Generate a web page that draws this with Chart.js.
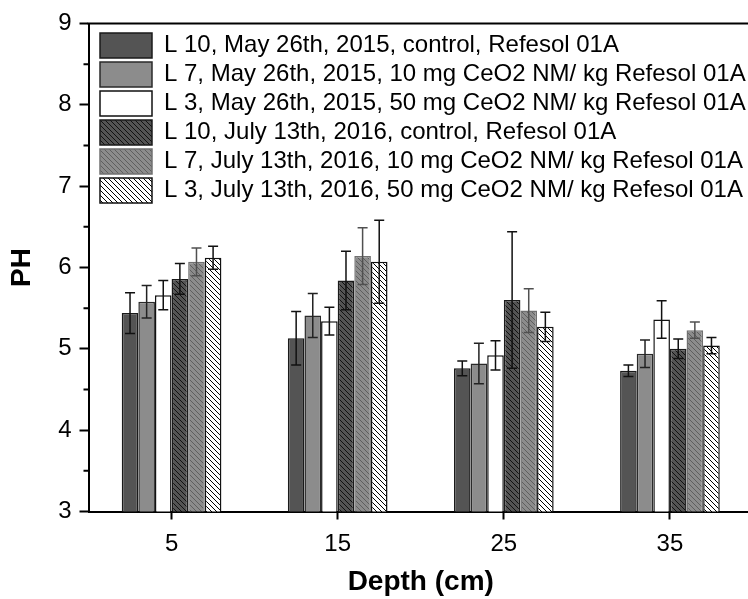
<!DOCTYPE html>
<html><head><meta charset="utf-8">
<script src="https://cdn.jsdelivr.net/npm/chart.js@4.4.1/dist/chart.umd.min.js"></script>
<style>
html,body{margin:0;padding:0;background:#fff;overflow:hidden;}
#wrap{width:748px;height:599px;overflow:hidden;position:relative;}
canvas{display:block;}
</style></head><body>
<div id="wrap"><canvas id="c" width="760" height="599"></canvas></div>
<script>
// ---- data ----
const depthLabels = ['5', '15', '25', '35'];
const seriesLabels = [
  'L 10, May 26th, 2015, control, Refesol 01A',
  'L 7, May 26th, 2015, 10 mg CeO2 NM/ kg Refesol 01A',
  'L 3, May 26th, 2015, 50 mg CeO2 NM/ kg Refesol 01A',
  'L 10, July 13th, 2016, control, Refesol 01A',
  'L 7, July 13th, 2016, 10 mg CeO2 NM/ kg Refesol 01A',
  'L 3, July 13th, 2016, 50 mg CeO2 NM/ kg Refesol 01A'
];
const phL10_2015 = [5.44, 5.13, 4.76, 4.73];
const phL7_2015  = [5.58, 5.41, 4.82, 4.94];
const phL3_2015  = [5.66, 5.34, 4.92, 5.36];
const phL10_2016 = [5.86, 5.84, 5.60, 5.00];
const phL7_2016  = [6.07, 6.14, 5.47, 5.23];
const phL3_2016  = [6.12, 6.07, 5.27, 5.04];
const errL10_2015 = [0.25, 0.33, 0.09, 0.07];
const errL7_2015  = [0.20, 0.27, 0.25, 0.17];
const errL3_2015  = [0.18, 0.17, 0.18, 0.23];
const errL10_2016 = [0.19, 0.36, 0.84, 0.12];
const errL7_2016  = [0.17, 0.35, 0.27, 0.10];
const errL3_2016  = [0.14, 0.51, 0.18, 0.10];
const yTicks = [3, 4, 5, 6, 7, 8, 9];
const yMinorTicks = [3.5, 4.5, 5.5, 6.5, 7.5, 8.5];

// ---- styles ----
const FONT = "'Liberation Sans', Arial, sans-serif";
function hatch(bg, line) {
  const s = 5;
  const t = document.createElement('canvas');
  t.width = s; t.height = s;
  const g = t.getContext('2d');
  g.fillStyle = bg; g.fillRect(0, 0, s, s);
  g.strokeStyle = line; g.lineWidth = 1;
  g.beginPath();
  g.moveTo(-1, -1); g.lineTo(s + 1, s + 1);
  g.moveTo(-1, s - 1); g.lineTo(1, s + 1);
  g.moveTo(s - 1, -1); g.lineTo(s + 1, 1);
  g.stroke();
  return g.createPattern(t, 'repeat');
}
const DARK = '#545454', GRAY = '#8c8c8c';
const fills = [DARK, GRAY, '#ffffff', hatch(DARK, '#111111'), hatch(GRAY, '#5e5e5e'), hatch('#ffffff', '#000000')];
const borders = ['#1a1a1a', '#2a2a2a', '#111111', '#1a1a1a', '#707070', '#111111'];
const errColors = ['#111111', '#222222', '#111111', '#111111', '#505050', '#111111'];
const values = [phL10_2015, phL7_2015, phL3_2015, phL10_2016, phL7_2016, phL3_2016];
const errors = [errL10_2015, errL7_2015, errL3_2015, errL10_2016, errL7_2016, errL3_2016];

const datasets = values.map((v, i) => ({
  label: seriesLabels[i],
  data: v,
  errors: errors[i],
  errorColor: errColors[i],
  backgroundColor: fills[i],
  borderColor: borders[i],
  borderWidth: 1.5,
  borderSkipped: false,
  categoryPercentage: 0.6,
  barPercentage: 1.0
}));

const errorBarPlugin = {
  id: 'errorBars',
  afterDatasetsDraw(chart) {
    const ctx = chart.ctx, y = chart.scales.y;
    chart.data.datasets.forEach((ds, i) => {
      const meta = chart.getDatasetMeta(i);
      if (meta.hidden) return;
      meta.data.forEach((bar, j) => {
        const v = ds.data[j], e = ds.errors[j];
        const yt = y.getPixelForValue(v + e), yb = y.getPixelForValue(v - e);
        const x = bar.x, cap = 5;
        ctx.save();
        ctx.strokeStyle = ds.errorColor; ctx.lineWidth = 1.5;
        ctx.beginPath();
        ctx.moveTo(x, yt); ctx.lineTo(x, yb);
        ctx.moveTo(x - cap, yt); ctx.lineTo(x + cap, yt);
        ctx.moveTo(x - cap, yb); ctx.lineTo(x + cap, yb);
        ctx.stroke();
        ctx.restore();
      });
    });
  }
};

const framePlugin = {
  id: 'frame',
  afterDraw(chart) {
    const { ctx, chartArea: a, scales: { y } } = chart;
    ctx.save();
    ctx.strokeStyle = '#000'; ctx.lineWidth = 2;
    ctx.beginPath();
    ctx.moveTo(a.left - 1, a.top); ctx.lineTo(a.right + 1, a.top);
    ctx.moveTo(a.right, a.top); ctx.lineTo(a.right, a.bottom);
    yMinorTicks.forEach(v => {
      const py = y.getPixelForValue(v);
      ctx.moveTo(a.left - 5, py); ctx.lineTo(a.left, py);
    });
    ctx.stroke();
    ctx.restore();
  }
};

const legendPlace = {
  id: 'legendPlace',
  afterLayout(chart) {
    const l = chart.legend, a = chart.chartArea;
    if (!l) return;
    const w = l.width, h = l.height;
    l.left = a.left + 7.5; l.top = a.top + 5.5;
    l.right = l.left + w; l.bottom = l.top + h;
  }
};

new Chart(document.getElementById('c'), {
  type: 'bar',
  data: { labels: depthLabels, datasets },
  options: {
    responsive: false,
    animation: false,
    devicePixelRatio: 1,
    layout: { padding: { top: 23.5, right: 7, left: 0, bottom: 0 } },
    plugins: {
      tooltip: { enabled: false },
      legend: {
        position: 'chartArea',
        align: 'start',
        labels: {
          boxWidth: 52, boxHeight: 25, padding: 4,
          color: '#000',
          font: { family: FONT, size: 24 }
        }
      }
    },
    scales: {
      x: {
        afterFit(s) { s.height = 87.5; },
        grid: { display: true, offset: false, drawOnChartArea: false, drawTicks: true, tickLength: 8, tickWidth: 2, tickColor: '#000' },
        border: { display: true, color: '#000', width: 2 },
        ticks: { color: '#000', padding: 10, font: { family: FONT, size: 24 } },
        title: { display: true, text: 'Depth (cm)', color: '#000', padding: { top: 0, bottom: 0 },
                 font: { family: FONT, size: 28, weight: 'bold' } }
      },
      y: {
        min: 3, max: 9,
        afterFit(s) { s.width = 88.5; },
        afterBuildTicks(s) { s.ticks = yTicks.map(v => ({ value: v })); },
        grid: { display: true, drawOnChartArea: false, drawTicks: true, tickLength: 9, tickWidth: 2, tickColor: '#000' },
        border: { display: true, color: '#000', width: 2 },
        ticks: { color: '#000', padding: 8, font: { family: FONT, size: 24 } },
        title: { display: true, text: 'PH', color: '#000', padding: { top: 5, bottom: 0 },
                 font: { family: FONT, size: 28, weight: 'bold' } }
      }
    }
  },
  plugins: [errorBarPlugin, framePlugin, legendPlace]
});
</script>
</body></html>
